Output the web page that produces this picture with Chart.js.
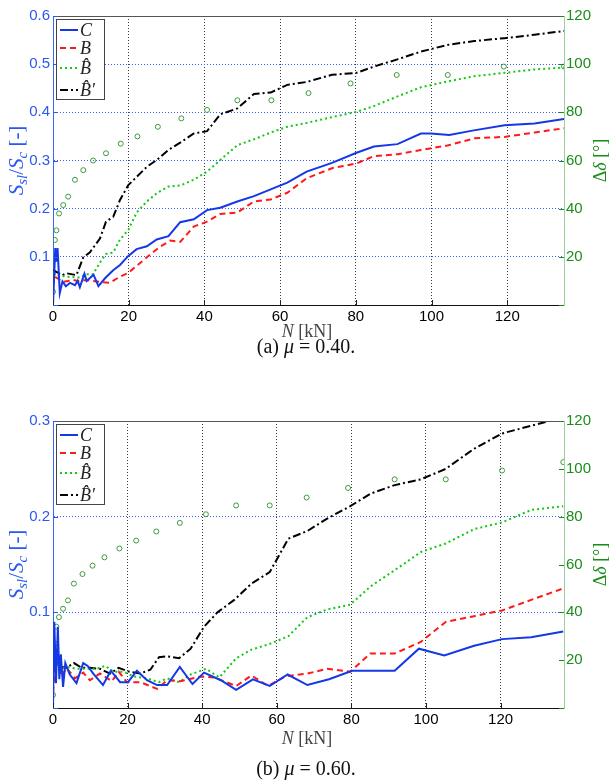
<!DOCTYPE html>
<html>
<head>
<meta charset="utf-8">
<script src="https://cdn.jsdelivr.net/npm/chart.js@4.4.0/dist/chart.umd.min.js"></script>
<style>
body { margin: 0; background: #fff; width: 612px; height: 782px; position: relative; overflow: hidden; }
.wrap { position: absolute; left: 0; width: 612px; }
.cap { position: absolute; left: 0; width: 612px; text-align: center; font: 20px "Liberation Serif", serif; color: #111; }
</style>
</head>
<body>
<div class="wrap" style="top:0;height:345px"><canvas id="chartA" width="612" height="345"></canvas></div>
<div class="cap" style="top:335px">(a) <i>μ</i> = 0.40.</div>
<div class="wrap" style="top:400px;height:360px"><canvas id="chartB" width="612" height="360"></canvas></div>
<div class="cap" style="top:757px">(b) <i>μ</i> = 0.60.</div>

<script>
// legend names and line looks
const seriesNames = ['C', 'B', 'B\u0302', 'B\u0302\u2032'];
const seriesColors = ['#1438e6', '#ff1a1a', '#12c812', '#000000'];
const seriesDash = [[], [6, 4], [2, 3], [8, 3, 2, 3]];

// (a) mu = 0.40   [N kN, Ssl/Sc]
const aC = [[0,0],[0.3,0.06],[0.6,0.118],[0.9,0.09],[1.2,0.118],[1.8,0.025],[2.5,0.049],[3.4,0.039],[4.5,0.046],[5.8,0.041],[6.5,0.05],[7.1,0.037],[8.3,0.065],[8.9,0.05],[10.7,0.063],[12,0.039],[13.8,0.056],[15.9,0.072],[17.7,0.083],[19.9,0.102],[22.1,0.116],[24.8,0.122],[27.4,0.136],[30.5,0.143],[33.6,0.172],[37.2,0.178],[40.7,0.197],[44.2,0.202],[48.7,0.215],[53.1,0.226],[57.5,0.24],[61.9,0.254],[67,0.277],[73.7,0.295],[80.2,0.316],[84.8,0.329],[91,0.334],[97.2,0.356],[99.8,0.356],[104.7,0.353],[110.8,0.362],[119.3,0.373],[127.2,0.377],[135,0.386]];
const aB = [[0,0.04],[0.4,0.059],[1.3,0.055],[2.7,0.048],[4,0.05],[5.3,0.052],[7,0.049],[8.8,0.052],[10.5,0.05],[12.4,0.048],[15,0.046],[17.3,0.057],[19.9,0.067],[23,0.087],[25.7,0.105],[28.3,0.121],[31,0.134],[33.6,0.131],[37.2,0.163],[40.7,0.173],[44.2,0.189],[48.7,0.192],[53.1,0.215],[57.5,0.219],[61.9,0.233],[67,0.263],[73.7,0.284],[80.2,0.294],[84.8,0.309],[91,0.313],[97.2,0.322],[104.2,0.331],[111.3,0.346],[119.3,0.349],[127.2,0.358],[135,0.367]];
const aBh = [[0,0.066],[1.3,0.062],[3.5,0.059],[7,0.057],[8.8,0.064],[10.6,0.064],[12.4,0.088],[14,0.106],[15.9,0.109],[17.7,0.136],[19.9,0.156],[22.1,0.192],[24.8,0.215],[27.4,0.232],[30.5,0.246],[33.6,0.248],[37.2,0.26],[40.7,0.277],[44.2,0.301],[48.7,0.332],[53.1,0.344],[57.5,0.358],[61.9,0.37],[67,0.378],[73.7,0.39],[80.2,0.401],[84.8,0.413],[91,0.433],[97.2,0.452],[104.2,0.464],[111.3,0.475],[119.3,0.482],[127.2,0.489],[135,0.493]];
const aBhp = [[0,0.073],[0.9,0.069],[2.5,0.062],[3.5,0.066],[6.2,0.062],[8,0.099],[9.7,0.109],[12.4,0.138],[14,0.173],[15.9,0.183],[17.7,0.218],[19.9,0.249],[22.1,0.266],[24.8,0.287],[27.4,0.301],[30.5,0.322],[33.6,0.337],[37.2,0.356],[40.7,0.361],[44.2,0.396],[48.7,0.408],[53.1,0.438],[57.5,0.441],[61.9,0.457],[67,0.463],[73.7,0.478],[80.2,0.482],[84.8,0.495],[91,0.51],[97.2,0.526],[104.2,0.54],[111.3,0.548],[119.3,0.554],[127.2,0.561],[135,0.569]];
const aDelta = [[0,5.5],[0,13],[0.3,20],[0.5,27],[0.9,31],[1.6,38],[2.7,41.5],[4,45],[5.8,52],[8,56],[10.6,60],[14,63],[17.9,67],[22.3,70],[27.7,74],[33.9,77.5],[40.7,81],[48.7,85],[57.7,85],[67.5,88],[78.6,92],[90.8,95.5],[104.3,95.5],[119.1,99],[135,99]];

// (b) mu = 0.60
const bC = [[0,0],[0.35,0.09],[0.8,0.026],[1.3,0.085],[1.7,0.03],[2.1,0.056],[2.7,0.022],[3.3,0.047],[4.5,0.035],[6.3,0.026],[8.1,0.047],[9.3,0.044],[10.8,0.036],[13.4,0.024],[15.5,0.039],[18,0.027],[20.1,0.027],[22.5,0.039],[25.2,0.029],[27.9,0.024],[30.6,0.024],[34,0.043],[37.4,0.025],[40.5,0.037],[45,0.029],[49.1,0.019],[53.6,0.03],[58.1,0.023],[62.9,0.035],[68.2,0.024],[74,0.03],[80.2,0.039],[91.6,0.039],[98.1,0.062],[104.9,0.055],[112.9,0.065],[120.4,0.072],[128.2,0.074],[136.8,0.08]];
const bB = [[0,0.016],[0.5,0.042],[1.4,0.043],[2.3,0.033],[3.6,0.042],[5.9,0.031],[8.1,0.037],[9.9,0.029],[12.6,0.036],[15.8,0.028],[17.6,0.038],[19.8,0.027],[23.4,0.027],[27.9,0.02],[30.6,0.029],[34.2,0.028],[39.6,0.033],[43.2,0.032],[49.1,0.023],[53.2,0.034],[57.7,0.023],[62.2,0.033],[68.2,0.036],[73.5,0.041],[79.7,0.038],[85.1,0.057],[91.6,0.057],[98.6,0.069],[105.3,0.09],[112.9,0.096],[120.4,0.102],[128.2,0.113],[136.8,0.125]];
const bBh = [[0,0.045],[0.9,0.047],[1.8,0.04],[3.6,0.043],[6.3,0.041],[9,0.041],[11.7,0.041],[14,0.044],[16.2,0.038],[18.9,0.038],[21.6,0.033],[25.2,0.031],[28.4,0.027],[30.6,0.031],[33.8,0.027],[36.9,0.035],[41,0.041],[44.6,0.032],[49.1,0.052],[53.2,0.061],[58.1,0.067],[63.1,0.075],[68.2,0.095],[73.5,0.103],[79.7,0.108],[85.1,0.127],[91.6,0.144],[98.6,0.163],[105.3,0.172],[112.9,0.187],[120.4,0.194],[128.2,0.207],[136.8,0.211]];
const bBhp = [[0,0.045],[0.9,0.052],[1.8,0.043],[3.6,0.042],[5.6,0.047],[7.7,0.042],[9.9,0.042],[12.6,0.041],[15.3,0.036],[17.6,0.042],[20.3,0.038],[23.4,0.036],[26.1,0.04],[28.4,0.053],[30.6,0.054],[33.8,0.052],[36.9,0.062],[40.5,0.085],[44.1,0.1],[48.6,0.113],[53.2,0.13],[58.1,0.142],[63.1,0.177],[68.2,0.185],[73.5,0.198],[79.7,0.211],[85.1,0.224],[91.6,0.233],[98.6,0.239],[105.3,0.25],[112.9,0.271],[120.4,0.287],[128.2,0.295],[133,0.3],[136.8,0.302]];
const bDelta = [[0,5.5],[0,12.5],[0,19.4],[0.5,27],[0.9,34],[1.6,38],[2.7,41.5],[4,45],[5.6,52],[7.9,56],[10.6,59.5],[13.8,63],[17.8,66.7],[22.3,70],[27.7,73.8],[34,77.4],[41,81],[49.1,84.7],[58.1,84.7],[68,88],[79.1,92],[91.6,95.6],[105.3,95.6],[120.4,99.3],[136.8,102.8]];

const blueTxt = '#2a58f0';
const greenTxt = '#1a8c1a';
const tickFont = { family: 'Liberation Sans', size: 15 };
const clear = 'rgba(0,0,0,0)';

function toXY(arr) {
    return arr.map(p => ({ x: p[0], y: p[1] }));
}

// draws a row of text pieces (different fonts / subscripts) centred on cx,cy
function drawRich(ctx, parts, cx, cy, rot) {
    ctx.save();
    ctx.translate(cx, cy);
    if (rot) ctx.rotate(rot);
    let w = 0;
    parts.forEach(p => { ctx.font = p.f; w += ctx.measureText(p.t).width; });
    let x = -w / 2;
    ctx.textBaseline = 'alphabetic';
    parts.forEach(p => {
        ctx.font = p.f;
        ctx.fillStyle = p.c;
        ctx.fillText(p.t, x, 6 + (p.dy || 0));
        x += ctx.measureText(p.t).width;
    });
    ctx.restore();
}

const decor = {
    id: 'decor',
    afterDatasetsDraw(chart, args, o) {
        const ctx = chart.ctx;
        const a = chart.chartArea;
        ctx.save();
        // top frame line
        ctx.strokeStyle = '#555';
        ctx.lineWidth = 1;
        ctx.beginPath();
        ctx.moveTo(a.left, a.top + 0.5);
        ctx.lineTo(a.right, a.top + 0.5);
        ctx.stroke();

        // small inward tick marks
        const sx = chart.scales.x, sy = chart.scales.y, sy2 = chart.scales.y2;
        ctx.strokeStyle = '#222';
        sx.ticks.forEach(t => {
            const px = Math.round(sx.getPixelForValue(t.value)) + 0.5;
            ctx.beginPath(); ctx.moveTo(px, a.bottom); ctx.lineTo(px, a.bottom - 5); ctx.stroke();
        });
        ctx.strokeStyle = blueTxt;
        sy.ticks.forEach(t => {
            const py = Math.round(sy.getPixelForValue(t.value)) + 0.5;
            ctx.beginPath(); ctx.moveTo(a.left, py); ctx.lineTo(a.left + 5, py); ctx.stroke();
        });
        ctx.strokeStyle = greenTxt;
        sy2.ticks.forEach(t => {
            const py = Math.round(sy2.getPixelForValue(t.value)) + 0.5;
            ctx.beginPath(); ctx.moveTo(a.right - 5, py); ctx.lineTo(a.right, py); ctx.stroke();
        });

        // legend box
        const lx = a.left + 3, ly = a.top + 3;
        ctx.fillStyle = '#fff';
        ctx.fillRect(lx, ly, 48, 80);
        ctx.strokeStyle = '#444';
        ctx.strokeRect(lx + 0.5, ly + 0.5, 48, 80);
        const rows = [14, 32, 52, 74];
        chart.data.datasets.slice(0, 4).forEach((ds, i) => {
            const ry = a.top + rows[i];
            ctx.strokeStyle = ds.borderColor;
            ctx.lineWidth = 2;
            ctx.setLineDash(ds.borderDash);
            ctx.beginPath(); ctx.moveTo(lx + 4, ry); ctx.lineTo(lx + 22, ry); ctx.stroke();
            ctx.setLineDash([]);
            ctx.fillStyle = '#222';
            ctx.font = 'italic 18px "Liberation Serif"';
            ctx.textBaseline = 'middle';
            ctx.fillText(ds.label, lx + 24, ry + 1);
        });
        ctx.restore();

        // axis titles
        const it = 'italic 21px "Liberation Serif"';
        const sm = 'italic 15px "Liberation Serif"';
        const rg = '21px "Liberation Serif"';
        drawRich(ctx, [
            { t: 'S', f: it, c: blueTxt },
            { t: 'sl', f: sm, c: blueTxt, dy: 4 },
            { t: '/', f: rg, c: blueTxt },
            { t: 'S', f: it, c: blueTxt },
            { t: 'c', f: sm, c: blueTxt, dy: 4 },
            { t: ' [-]', f: rg, c: blueTxt }
        ], 17, (a.top + a.bottom) / 2, -Math.PI / 2);
        drawRich(ctx, [
            { t: 'Δ', f: '18px "Liberation Serif"', c: greenTxt },
            { t: 'δ', f: 'italic 18px "Liberation Serif"', c: greenTxt },
            { t: ' [°]', f: '18px "Liberation Serif"', c: greenTxt }
        ], 600, (a.top + a.bottom) / 2, -Math.PI / 2);
        drawRich(ctx, [
            { t: 'N', f: 'italic 18px "Liberation Serif"', c: '#444' },
            { t: ' [kN]', f: '18px "Liberation Serif"', c: '#444' }
        ], 307, o.xTitleY, 0);
    }
};

function buildChart(id, cfg) {
    const datasets = cfg.series.map((s, i) => ({
        label: seriesNames[i],
        data: toXY(s),
        yAxisID: 'y',
        showLine: true,
        pointRadius: 0,
        borderColor: seriesColors[i],
        borderWidth: 2,
        borderDash: seriesDash[i],
        fill: false
    }));
    datasets.push({
        label: 'Δδ',
        data: toXY(cfg.delta),
        yAxisID: 'y2',
        showLine: false,
        pointRadius: 2.5,
        pointStyle: 'circle',
        borderColor: '#3d9a3d',
        backgroundColor: clear,
        borderWidth: 1
    });

    return new Chart(document.getElementById(id), {
        type: 'scatter',
        data: { datasets: datasets },
        plugins: [decor],
        options: {
            responsive: false,
            animation: false,
            layout: { padding: { top: cfg.top, left: 0, right: 0, bottom: 0 } },
            plugins: {
                legend: { display: false },
                tooltip: { enabled: false },
                decor: { xTitleY: cfg.xTitleY }
            },
            scales: {
                x: {
                    type: 'linear', min: 0, max: cfg.xMax,
                    afterFit: s => { s.height = cfg.h - cfg.bottom; },
                    ticks: { stepSize: 20, includeBounds: false, color: '#000', font: tickFont, padding: 3, maxRotation: 0 },
                    grid: { color: c => c.tick.value === 0 ? clear : '#3a3a3a', lineWidth: 1, drawTicks: false },
                    border: { color: '#111', width: 1, dash: [1, 2] }
                },
                y: {
                    position: 'left', min: 0, max: cfg.yMax,
                    afterFit: s => { s.width = 53; },
                    ticks: {
                        stepSize: 0.1, color: blueTxt, font: tickFont, padding: 3,
                        callback: v => v === 0 ? '' : v.toFixed(1)
                    },
                    grid: {
                        color: c => (c.tick.value === 0 || Math.abs(c.tick.value - cfg.yMax) < 1e-9) ? clear : '#3a5cff',
                        lineWidth: 1, drawTicks: false
                    },
                    border: { color: '#3a64ff', width: 1, dash: [1, 2] }
                },
                y2: {
                    position: 'right', min: 0, max: 120,
                    afterFit: s => { s.width = 48; },
                    ticks: {
                        stepSize: 20, color: greenTxt, font: tickFont, padding: 2,
                        callback: v => v === 0 ? '' : String(v)
                    },
                    grid: { display: false, drawTicks: false },
                    border: { color: '#9ccf9c', width: 1 }
                }
            }
        }
    });
}

buildChart('chartA', {
    series: [aC, aB, aBh, aBhp], delta: aDelta,
    xMax: 135, yMax: 0.6, h: 345, top: 16, bottom: 305, xTitleY: 331
});
buildChart('chartB', {
    series: [bC, bB, bBh, bBhp], delta: bDelta,
    xMax: 137, yMax: 0.3, h: 360, top: 21, bottom: 308, xTitleY: 338
});
</script>
</body>
</html>
